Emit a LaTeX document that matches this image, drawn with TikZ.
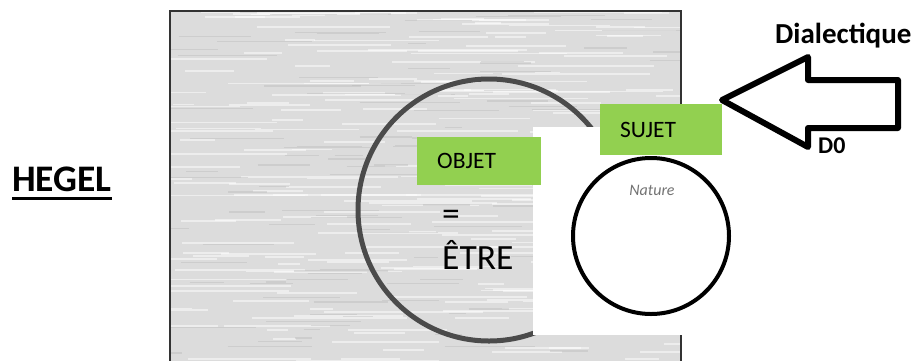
\documentclass[tikz,border=0pt]{standalone}
\usepackage{fontspec}
\setmainfont{Carlito}
\definecolor{paper}{RGB}{220,220,220}
\definecolor{ring}{RGB}{75,75,75}
\definecolor{leaf}{RGB}{146,208,80}

\begin{document}
\begin{tikzpicture}[x=1bp, y=-1bp,
  greenbox/.style={fill=leaf, anchor=north west, inner xsep=20bp, text width=#1,
    align=left, minimum height=48bp, font=\fontsize{23.5bp}{27bp}\selectfont},
  bigtext/.style={inner sep=0, anchor=base west, font=\fontsize{35.5bp}{40bp}\selectfont},
  boldtext/.style={inner sep=0, anchor=base west, font=\bfseries\fontsize{#1}{#1}\selectfont}]
\useasboundingbox (0,0) rectangle (917,360);
\clip (0,0) rectangle (917,360);
%
\fill[paper](170,11) rectangle (681,380);
\begin{scope}
\clip (170,11) rectangle (681,380);
\pgfmathsetseed{11}
\foreach \i in {1,...,240}{
  \pgfmathsetmacro{\sx}{150+rnd*520}
  \pgfmathsetmacro{\sy}{11+rnd*360}
  \pgfmathsetmacro{\sl}{20+rnd*140}
  \draw[white, opacity=0.5, line width=1.8bp](\sx,\sy)--++(\sl,0);
}
\foreach \i in {1,...,120}{
  \pgfmathsetmacro{\sx}{150+rnd*520}
  \pgfmathsetmacro{\sy}{11+rnd*360}
  \pgfmathsetmacro{\sl}{15+rnd*90}
  \draw[black!30, opacity=0.35, line width=1.2bp](\sx,\sy)--++(\sl,0);
}
\end{scope}
\draw[line width=2bp, black!80](170,380)--(170,11)--(681,11)--(681,380);
%
\draw[ring, line width=5bp](489,210) circle [radius=131bp];
\fill[white](533,127) rectangle (700,335);
%
\node[greenbox=84bp] (objet) at (417,137) {OBJET};
\node[greenbox=82bp, minimum height=51bp] (sujet) at (600,104) {SUJET};
%
\draw[line width=4bp](651,236) circle [radius=78bp];
\node[text=black!55, font=\itshape\fontsize{16bp}{18bp}\selectfont] (nature) at (652,190) {Nature};
%
\node[bigtext] (eq) at (442,225) {=};
\node[bigtext] (etre) at (442,269) {ÊTRE};
%
\node[boldtext=37.5bp] (hegel) at (12,191) {HEGEL};
\draw[line width=3bp]([yshift=-7bp]hegel.base west)--([yshift=-7bp]hegel.base east);
%
\node[boldtext=29bp] (dial) at (775,43) {Dialectique};
\node[boldtext=24bp] (dzero) at (818,153) {D0};
\draw[line width=6bp, fill=white, line join=round](722,100)--(808,57)--(808,80)--(898,80)--(898,128)--(808,128)--(808,147)--cycle;
\end{tikzpicture}
\end{document}
